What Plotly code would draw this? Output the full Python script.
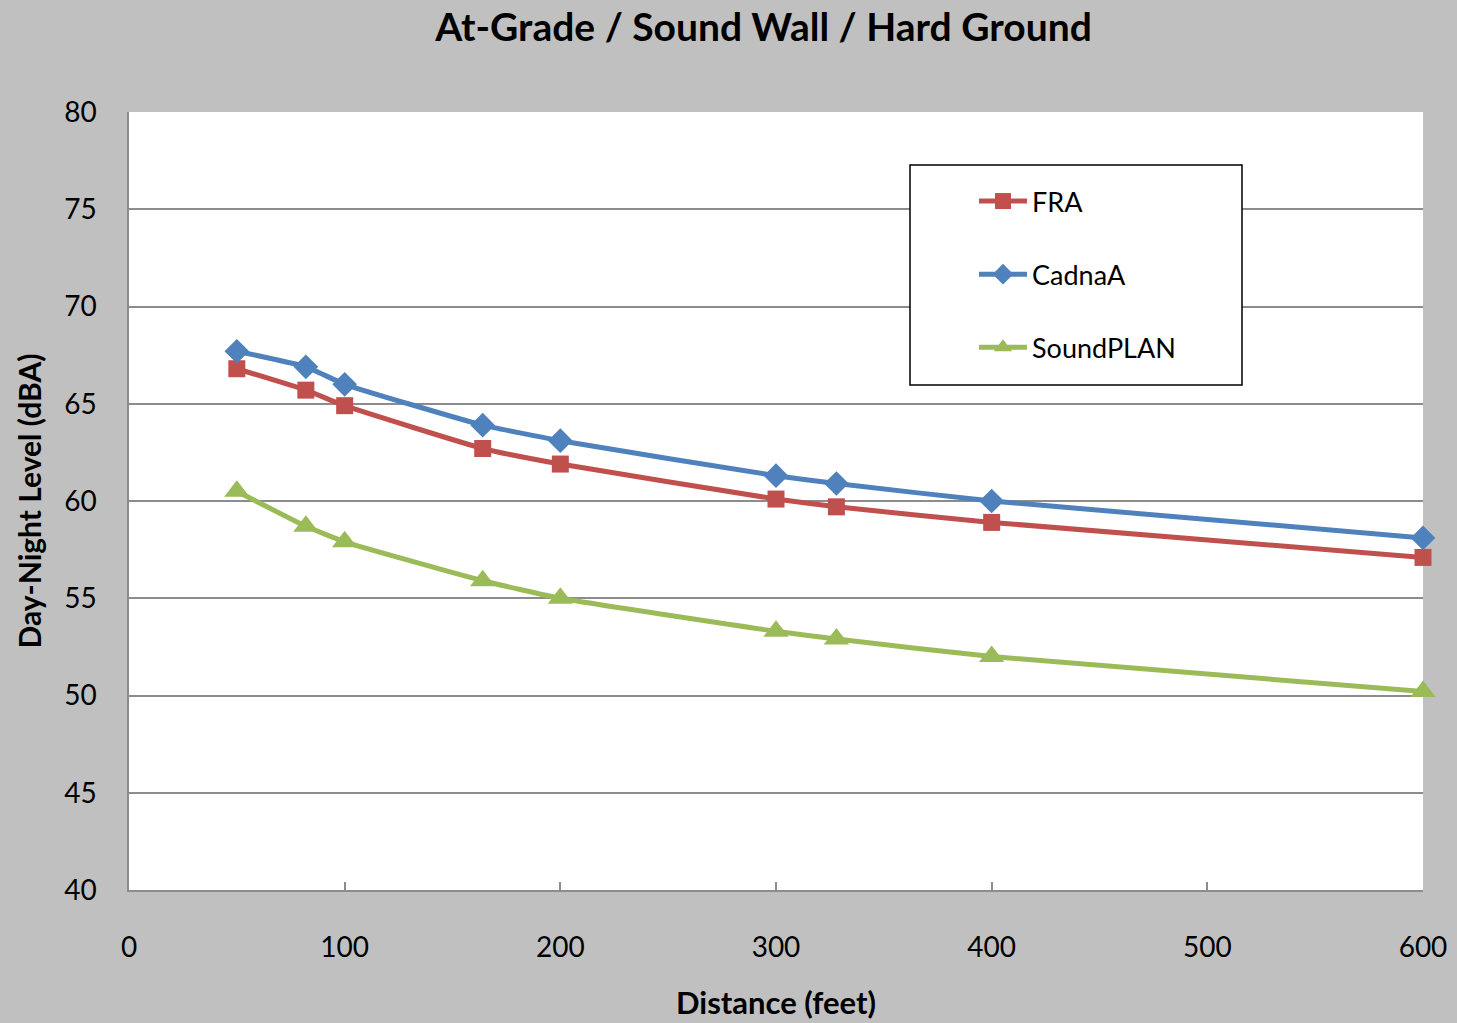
import plotly.graph_objects as go

# distances (feet) and levels (dBA)
distance = [50, 82, 100, 164, 200, 300, 328, 400, 600]
fra = [66.8, 65.7, 64.9, 62.7, 61.9, 60.1, 59.7, 58.9, 57.1]
cadnaa = [67.7, 66.9, 66.0, 63.9, 63.1, 61.3, 60.9, 60.0, 58.1]
soundplan = [60.5, 58.7, 57.9, 55.9, 55.0, 53.3, 52.9, 52.0, 50.2]

FONT = "Lato"

fig = go.Figure()
fig.add_trace(
    go.Scatter(
        x=distance, y=fra, name="FRA", mode="lines+markers", legendgroup="a",
        line=dict(color="#C0504D", width=5, shape="spline", smoothing=0.4),
        marker=dict(symbol="square", size=17, color="#C0504D"),
        cliponaxis=False,
    )
)
fig.add_trace(
    go.Scatter(
        x=distance, y=cadnaa, name="CadnaA", mode="lines+markers", legendgroup="b",
        line=dict(color="#4F81BD", width=5, shape="spline", smoothing=0.4),
        marker=dict(symbol="diamond", size=19, color="#4F81BD"),
        cliponaxis=False,
    )
)
fig.add_trace(
    go.Scatter(
        x=distance, y=soundplan, name="SoundPLAN", mode="lines+markers", legendgroup="c",
        line=dict(color="#9BBB59", width=5, shape="spline", smoothing=0.4),
        marker=dict(symbol="triangle-up", size=22, color="#9BBB59"),
        cliponaxis=False,
    )
)

# legend frame
fig.add_shape(
    type="rect", xref="paper", yref="paper",
    x0=(910 - 129) / 1294, x1=(1242 - 129) / 1294,
    y0=(890 - 385) / 778, y1=(890 - 165) / 778,
    line=dict(color="black", width=1.5), fillcolor="white", layer="above",
)

fig.update_layout(
    width=1457,
    height=1023,
    paper_bgcolor="#C0C0C0",
    plot_bgcolor="white",
    margin=dict(l=129, r=34, t=112, b=133),
    font=dict(family=FONT, size=28, color="black"),
    title=dict(
        text="<b>At-Grade / Sound Wall / Hard Ground</b>",
        x=0.524, xanchor="center", y=0.987, yanchor="top",
        font=dict(family=FONT, size=39, color="black"),
    ),
    legend=dict(
        x=(974 - 129) / 1294, y=(890 - 177) / 778, xanchor="left", yanchor="top",
        bgcolor="rgba(0,0,0,0)", borderwidth=0,
        traceorder="grouped", tracegroupgap=35, itemwidth=48,
        font=dict(family=FONT, size=27, color="black"),
    ),
)
fig.update_xaxes(
    range=[0, 600], dtick=100, tick0=0, automargin=False,
    showgrid=False, zeroline=False,
    showline=True, linecolor="#8C8C8C", linewidth=1.5,
    ticks="inside", ticklen=8, tickcolor="#8C8C8C", tickwidth=1.5,
    ticklabelstandoff=32,
    title=dict(text="<b>Distance (feet)</b>", font=dict(family=FONT, size=31), standoff=30),
)
fig.update_yaxes(
    range=[40, 80], dtick=5, tick0=40, automargin=False,
    showgrid=True, gridcolor="#8C8C8C", gridwidth=1.5, zeroline=False,
    showline=True, linecolor="#8C8C8C", linewidth=1.5,
    ticks="", ticklabelstandoff=25,
    title=dict(text="<b>Day-Night Level (dBA)</b>", font=dict(family=FONT, size=30), standoff=14),
)

fig.write_html(
    "out.html",
    config={"displayModeBar": False},
    post_script="document.body.style.margin='0';document.body.style.overflow='hidden';",
)
